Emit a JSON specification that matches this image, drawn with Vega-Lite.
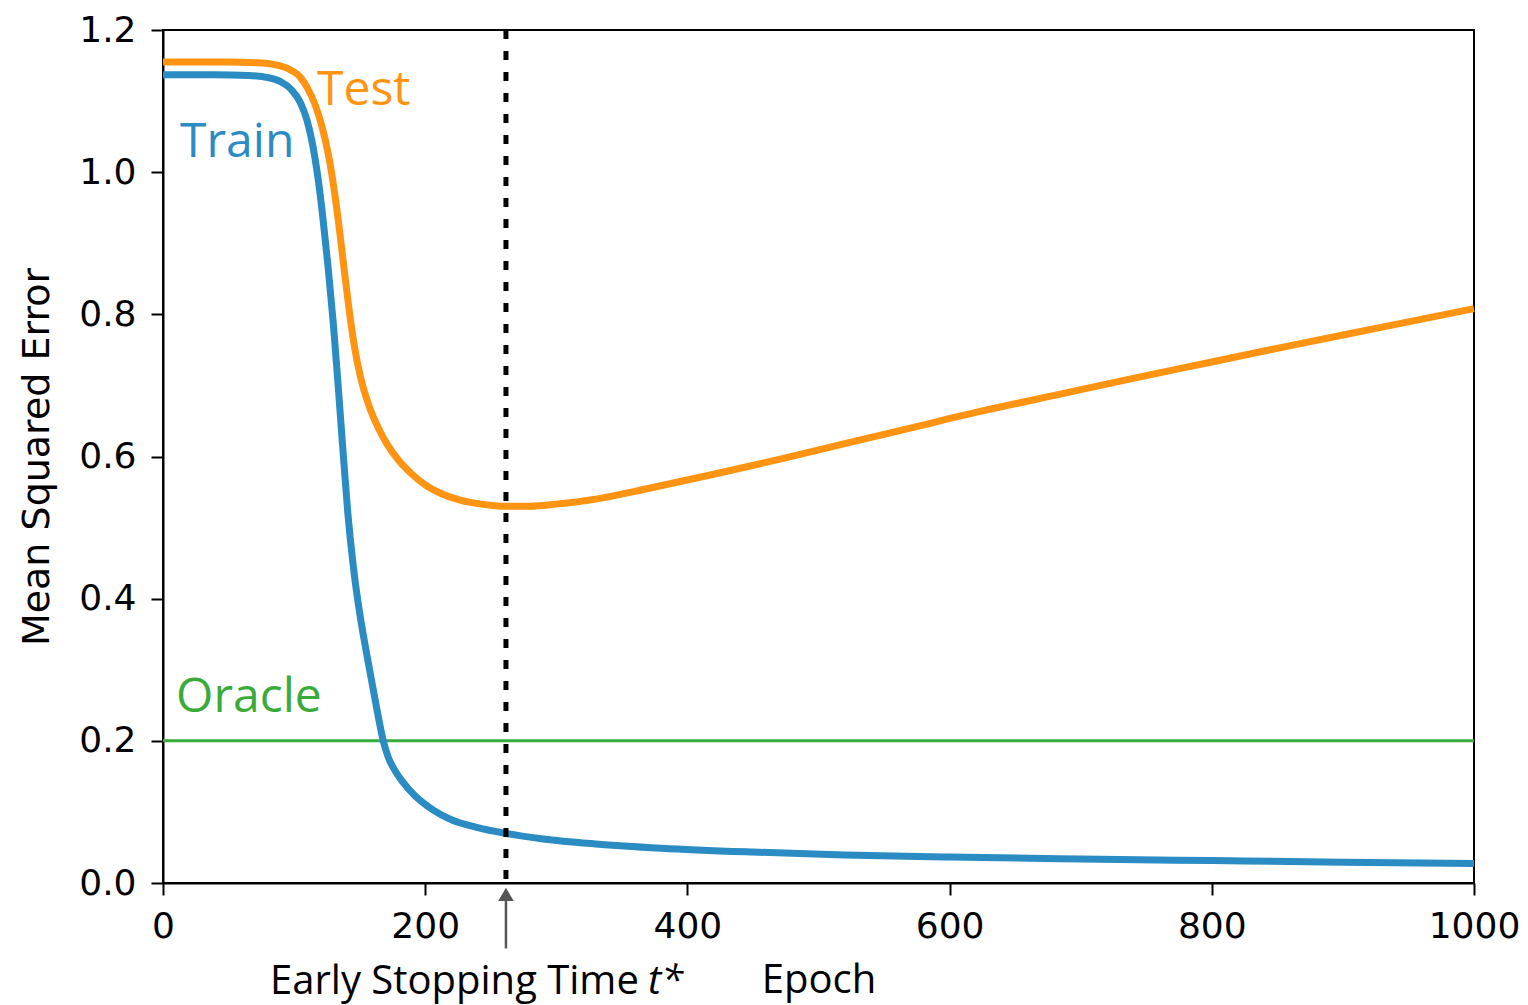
{
  "$schema": "https://vega.github.io/schema/vega-lite/v6.json",
  "autosize": "none",
  "width": 1311,
  "height": 853,
  "padding": {"left": 163, "top": 30, "right": 54, "bottom": 122},
  "background": "white",
  "config": {
    "view": {"stroke": "black", "strokeWidth": 2},
    "axis": {
      "grid": false,
      "domainColor": "black",
      "domainWidth": 2,
      "tickColor": "black",
      "tickWidth": 2,
      "tickSize": 12,
      "labelFont": "DejaVu Sans",
      "labelFontSize": 36,
      "labelColor": "black",
      "labelFlush": false,
      "titleColor": "black",
      "titleFontWeight": "normal"
    }
  },
  "datasets": {
    "curves": [
      {"epoch": 0, "mse": 1.137, "series": "Train"},
      {"epoch": 40, "mse": 1.137, "series": "Train"},
      {"epoch": 65, "mse": 1.136, "series": "Train"},
      {"epoch": 80, "mse": 1.133, "series": "Train"},
      {"epoch": 90, "mse": 1.127, "series": "Train"},
      {"epoch": 98, "mse": 1.116, "series": "Train"},
      {"epoch": 105, "mse": 1.097, "series": "Train"},
      {"epoch": 110, "mse": 1.072, "series": "Train"},
      {"epoch": 114, "mse": 1.04, "series": "Train"},
      {"epoch": 118, "mse": 0.995, "series": "Train"},
      {"epoch": 122, "mse": 0.935, "series": "Train"},
      {"epoch": 126, "mse": 0.865, "series": "Train"},
      {"epoch": 130, "mse": 0.785, "series": "Train"},
      {"epoch": 134, "mse": 0.69, "series": "Train"},
      {"epoch": 137, "mse": 0.615, "series": "Train"},
      {"epoch": 141, "mse": 0.52, "series": "Train"},
      {"epoch": 145, "mse": 0.448, "series": "Train"},
      {"epoch": 150, "mse": 0.38, "series": "Train"},
      {"epoch": 155, "mse": 0.326, "series": "Train"},
      {"epoch": 160, "mse": 0.276, "series": "Train"},
      {"epoch": 164, "mse": 0.236, "series": "Train"},
      {"epoch": 168, "mse": 0.2, "series": "Train"},
      {"epoch": 172, "mse": 0.176, "series": "Train"},
      {"epoch": 177, "mse": 0.158, "series": "Train"},
      {"epoch": 183, "mse": 0.142, "series": "Train"},
      {"epoch": 192, "mse": 0.123, "series": "Train"},
      {"epoch": 205, "mse": 0.104, "series": "Train"},
      {"epoch": 220, "mse": 0.089, "series": "Train"},
      {"epoch": 240, "mse": 0.078, "series": "Train"},
      {"epoch": 261, "mse": 0.07, "series": "Train"},
      {"epoch": 290, "mse": 0.062, "series": "Train"},
      {"epoch": 330, "mse": 0.055, "series": "Train"},
      {"epoch": 380, "mse": 0.049, "series": "Train"},
      {"epoch": 450, "mse": 0.0435, "series": "Train"},
      {"epoch": 520, "mse": 0.0395, "series": "Train"},
      {"epoch": 600, "mse": 0.0365, "series": "Train"},
      {"epoch": 700, "mse": 0.0338, "series": "Train"},
      {"epoch": 800, "mse": 0.0315, "series": "Train"},
      {"epoch": 900, "mse": 0.0293, "series": "Train"},
      {"epoch": 1000, "mse": 0.0275, "series": "Train"},
      {"epoch": 0, "mse": 1.155, "series": "Test"},
      {"epoch": 50, "mse": 1.155, "series": "Test"},
      {"epoch": 72, "mse": 1.154, "series": "Test"},
      {"epoch": 86, "mse": 1.151, "series": "Test"},
      {"epoch": 96, "mse": 1.145, "series": "Test"},
      {"epoch": 104, "mse": 1.135, "series": "Test"},
      {"epoch": 110, "mse": 1.119, "series": "Test"},
      {"epoch": 116, "mse": 1.095, "series": "Test"},
      {"epoch": 121, "mse": 1.066, "series": "Test"},
      {"epoch": 126, "mse": 1.026, "series": "Test"},
      {"epoch": 130, "mse": 0.982, "series": "Test"},
      {"epoch": 134, "mse": 0.928, "series": "Test"},
      {"epoch": 138, "mse": 0.866, "series": "Test"},
      {"epoch": 142, "mse": 0.806, "series": "Test"},
      {"epoch": 146, "mse": 0.755, "series": "Test"},
      {"epoch": 151, "mse": 0.709, "series": "Test"},
      {"epoch": 157, "mse": 0.672, "series": "Test"},
      {"epoch": 164, "mse": 0.641, "series": "Test"},
      {"epoch": 171, "mse": 0.617, "series": "Test"},
      {"epoch": 180, "mse": 0.594, "series": "Test"},
      {"epoch": 190, "mse": 0.575, "series": "Test"},
      {"epoch": 200, "mse": 0.56, "series": "Test"},
      {"epoch": 212, "mse": 0.548, "series": "Test"},
      {"epoch": 226, "mse": 0.539, "series": "Test"},
      {"epoch": 243, "mse": 0.533, "series": "Test"},
      {"epoch": 261, "mse": 0.53, "series": "Test"},
      {"epoch": 280, "mse": 0.53, "series": "Test"},
      {"epoch": 300, "mse": 0.533, "series": "Test"},
      {"epoch": 330, "mse": 0.54, "series": "Test"},
      {"epoch": 370, "mse": 0.555, "series": "Test"},
      {"epoch": 420, "mse": 0.575, "series": "Test"},
      {"epoch": 470, "mse": 0.596, "series": "Test"},
      {"epoch": 520, "mse": 0.618, "series": "Test"},
      {"epoch": 570, "mse": 0.64, "series": "Test"},
      {"epoch": 620, "mse": 0.662, "series": "Test"},
      {"epoch": 680, "mse": 0.686, "series": "Test"},
      {"epoch": 740, "mse": 0.71, "series": "Test"},
      {"epoch": 800, "mse": 0.733, "series": "Test"},
      {"epoch": 860, "mse": 0.756, "series": "Test"},
      {"epoch": 930, "mse": 0.782, "series": "Test"},
      {"epoch": 1000, "mse": 0.808, "series": "Test"}
    ],
    "labels": [
      {"epoch": 117.5, "mse": 1.0945, "series": "Test", "label": "Test"},
      {"epoch": 13, "mse": 1.0214, "series": "Train", "label": "Train"},
      {"epoch": 10, "mse": 0.2406, "series": "Oracle", "label": "Oracle"}
    ]
  },
  "layer": [
    {
      "data": {"values": [{"mse": 0.2, "series": "Oracle"}]},
      "mark": {"type": "rule", "strokeWidth": 3},
      "encoding": {
        "y": {"field": "mse", "type": "quantitative", "scale": {"domain": [0, 1.2]}},
        "color": {"field": "series", "type": "nominal", "legend": null,
          "scale": {"domain": ["Train", "Test", "Oracle"], "range": ["#2b8bc3", "#ff9412", "#3aab3a"]}}
      }
    },
    {
      "data": {"name": "curves"},
      "mark": {"type": "line", "strokeWidth": 7, "interpolate": "monotone", "strokeCap": "butt", "strokeJoin": "round"},
      "encoding": {
        "x": {"field": "epoch", "type": "quantitative",
          "scale": {"domain": [0, 1000], "nice": false},
          "axis": {"values": [0, 200, 400, 600, 800, 1000], "format": "d", "labelPadding": 14,
            "title": "Epoch", "titleFont": "Open Sans", "titleFontSize": 40, "titlePadding": 16}},
        "y": {"field": "mse", "type": "quantitative",
          "scale": {"domain": [0, 1.2], "nice": false},
          "axis": {"values": [0, 0.2, 0.4, 0.6, 0.8, 1.0, 1.2], "format": ".1f", "labelPadding": 15,
            "title": "Mean Squared Error", "titleFont": "DejaVu Sans", "titleFontSize": 38, "titlePadding": 22}},
        "color": {"field": "series", "type": "nominal", "legend": null},
        "detail": {"field": "series"}
      }
    },
    {
      "data": {"values": [{"epoch": 261.6}]},
      "mark": {"type": "rule", "color": "black", "strokeWidth": 5, "strokeDash": [9, 12]},
      "encoding": {"x": {"field": "epoch", "type": "quantitative"}}
    },
    {
      "data": {"values": [{"epoch": 261.6, "top": -0.015, "bottom": -0.092}]},
      "mark": {"type": "rule", "color": "#555555", "strokeWidth": 2.5},
      "encoding": {
        "x": {"field": "epoch", "type": "quantitative"},
        "y": {"field": "top", "type": "quantitative"},
        "y2": {"field": "bottom"}
      }
    },
    {
      "data": {"values": [{"epoch": 261.6, "tip": -0.016}]},
      "mark": {"type": "point", "shape": "triangle-up", "filled": true, "color": "#555555", "size": 240, "opacity": 1},
      "encoding": {
        "x": {"field": "epoch", "type": "quantitative"},
        "y": {"field": "tip", "type": "quantitative"}
      }
    },
    {
      "data": {"name": "labels"},
      "mark": {"type": "text", "font": "Open Sans", "fontSize": 48, "align": "left", "baseline": "alphabetic"},
      "encoding": {
        "x": {"field": "epoch", "type": "quantitative"},
        "y": {"field": "mse", "type": "quantitative"},
        "text": {"field": "label"},
        "color": {"field": "series", "type": "nominal", "legend": null}
      }
    },
    {
      "data": {"values": [{"epoch": 81.6, "mse": -0.156, "label": "Early Stopping Time"}]},
      "mark": {"type": "text", "font": "Open Sans", "fontSize": 40, "align": "left", "baseline": "alphabetic", "color": "black"},
      "encoding": {
        "x": {"field": "epoch", "type": "quantitative"},
        "y": {"field": "mse", "type": "quantitative"},
        "text": {"field": "label"}
      }
    },
    {
      "data": {"values": [{"epoch": 370, "mse": -0.156, "label": "t*"}]},
      "mark": {"type": "text", "font": "Open Sans", "fontSize": 40, "fontStyle": "italic", "align": "left", "baseline": "alphabetic", "color": "black"},
      "encoding": {
        "x": {"field": "epoch", "type": "quantitative"},
        "y": {"field": "mse", "type": "quantitative"},
        "text": {"field": "label"}
      }
    }
  ]
}
